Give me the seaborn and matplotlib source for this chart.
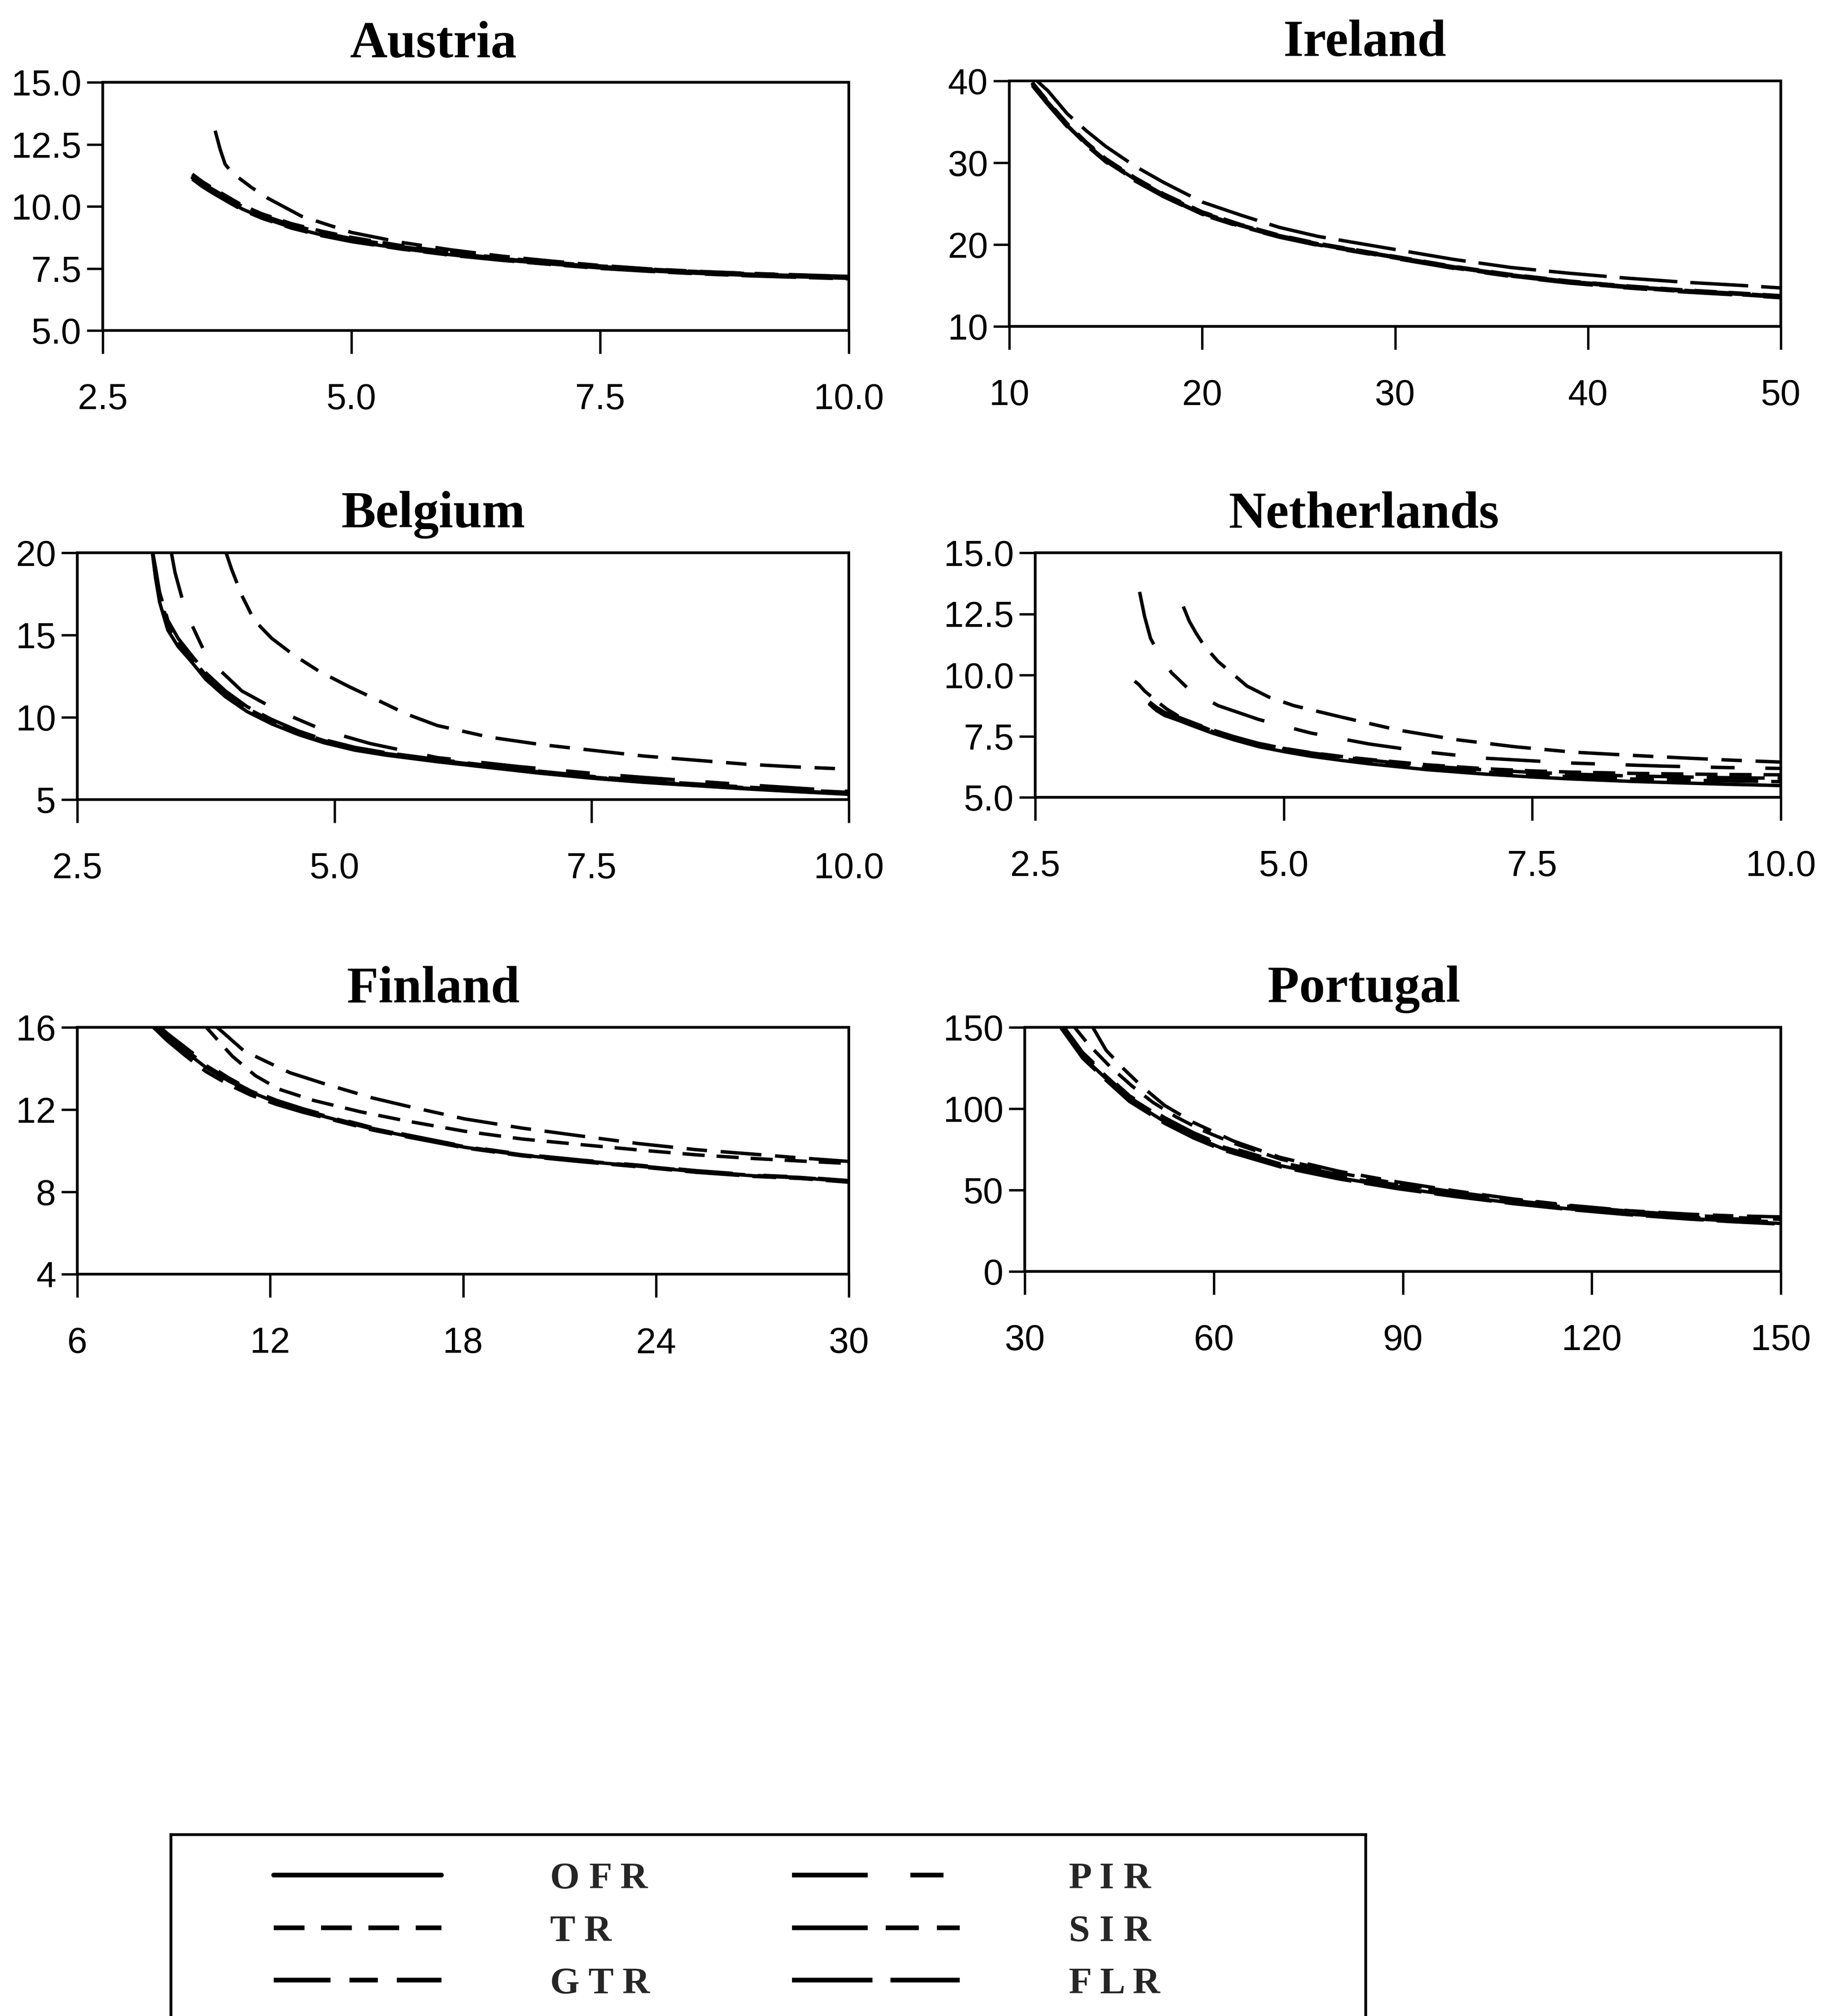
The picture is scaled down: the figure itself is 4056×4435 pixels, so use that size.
import matplotlib
matplotlib.use("Agg")
import matplotlib.pyplot as plt
from matplotlib.lines import Line2D
import pandas as pd
import seaborn as sns

# ---------------------------------------------------------------------------
# Series and legend text
# ---------------------------------------------------------------------------
SERIES = ["OFR", "TR", "GTR", "PIR", "SIR", "FLR"]
LEGEND_LABELS = ["O F R", "T R", "G T R", "P I R", "S I R", "F L R"]

# dash patterns (in units of line width)
DASHES = {
    "OFR": "",
    "TR": (6.5, 3.5),
    "GTR": (12, 4, 6, 4),
    "PIR": (16, 9, 7, 9),
    "SIR": (16, 3.8, 7, 3.8, 7, 3.8),
    "FLR": (17, 3.8),
}

# ---------------------------------------------------------------------------
# Austria
# ---------------------------------------------------------------------------
AT_X = [3.40, 3.50, 3.60, 3.75, 3.90, 4.10, 4.40, 4.70, 5.00, 5.50, 6.00, 6.50,
        7.00, 7.50, 8.00, 8.50, 9.00, 9.50, 10.00]
AT_OFR = [11.15, 10.85, 10.60, 10.25, 9.90, 9.55, 9.15, 8.85, 8.60, 8.30, 8.05,
          7.85, 7.68, 7.52, 7.40, 7.30, 7.22, 7.16, 7.10]
AT_TR = [11.30, 11.00, 10.75, 10.40, 10.05, 9.70, 9.30, 9.00, 8.75, 8.42, 8.15,
         7.93, 7.75, 7.60, 7.47, 7.37, 7.29, 7.23, 7.18]
AT_PIR = [11.20, 10.90, 10.65, 10.30, 9.95, 9.60, 9.20, 8.90, 8.65, 8.34, 8.08,
          7.88, 7.70, 7.55, 7.43, 7.33, 7.25, 7.19, 7.13]
AT_SIR = [11.10, 10.80, 10.55, 10.20, 9.86, 9.52, 9.12, 8.82, 8.58, 8.28, 8.03,
          7.83, 7.66, 7.50, 7.38, 7.28, 7.20, 7.14, 7.08]
AT_FLR = [11.25, 10.95, 10.70, 10.35, 10.00, 9.65, 9.25, 8.95, 8.70, 8.38, 8.12,
          7.90, 7.72, 7.58, 7.45, 7.35, 7.27, 7.21, 7.15]
AT_GTR_X = [3.63, 3.68, 3.73, 3.80, 3.90, 4.00, 4.15, 4.50, 5.00, 5.50, 6.00,
            6.50, 7.00, 7.50, 8.00, 8.50, 9.00, 9.50, 10.00]
AT_GTR = [13.05, 12.30, 11.70, 11.35, 11.05, 10.75, 10.35, 9.60, 8.95, 8.55,
          8.25, 8.00, 7.80, 7.62, 7.48, 7.38, 7.30, 7.24, 7.18]

# ---------------------------------------------------------------------------
# Ireland
# ---------------------------------------------------------------------------
IE_X = [11.2, 12.0, 13.0, 14.0, 15.0, 16.5, 18.0, 20.0, 22.0, 24.0, 26.0, 28.0,
        30.0, 33.0, 36.0, 39.0, 42.0, 45.0, 48.0, 50.0]
IE_OFR = [39.6, 37.3, 34.6, 32.3, 30.3, 28.0, 26.0, 23.8, 22.3, 21.0, 20.0, 19.2,
          18.4, 17.2, 16.2, 15.4, 14.8, 14.3, 13.9, 13.6]
IE_TR = [39.8, 37.5, 34.8, 32.5, 30.5, 28.2, 26.2, 24.0, 22.45, 21.15, 20.15,
         19.35, 18.55, 17.35, 16.35, 15.55, 14.95, 14.45, 14.05, 13.75]
IE_GTR = [39.5, 37.2, 34.5, 32.2, 30.2, 27.9, 25.9, 23.7, 22.2, 20.95, 19.95,
          19.15, 18.35, 17.15, 16.15, 15.35, 14.75, 14.25, 13.85, 13.55]
IE_PIR = [39.4, 37.1, 34.4, 32.1, 30.1, 27.8, 25.85, 23.65, 22.15, 20.9, 19.9,
          19.1, 18.3, 17.1, 16.1, 15.3, 14.7, 14.2, 13.8, 13.5]
IE_SIR = [39.7, 37.4, 34.7, 32.4, 30.4, 28.1, 26.1, 23.9, 22.4, 21.1, 20.1, 19.3,
          18.5, 17.3, 16.3, 15.5, 14.9, 14.4, 14.0, 13.7]
IE_FLR = [40.5, 38.8, 36.0, 33.9, 32.0, 29.6, 27.6, 25.2, 23.6, 22.1, 21.0, 20.2,
          19.4, 18.2, 17.2, 16.5, 15.9, 15.4, 15.0, 14.7]

# ---------------------------------------------------------------------------
# Belgium
# ---------------------------------------------------------------------------
BE_X = [3.22, 3.26, 3.30, 3.38, 3.48, 3.60, 3.75, 3.94, 4.15, 4.39, 4.65,
        4.90, 5.20, 5.50, 6.00, 6.50, 7.00, 7.50, 8.00, 8.50, 9.00, 9.50, 10.00]
BE_OFR = [20.5, 18.5, 17.0, 15.3, 14.3, 13.45, 12.3, 11.25, 10.35, 9.6, 8.95,
          8.45, 8.0, 7.7, 7.3, 6.95, 6.6, 6.3, 6.05, 5.85, 5.65, 5.48, 5.32]
BE_TR = [20.5, 18.9, 17.4, 15.7, 14.6, 13.7, 12.55, 11.45, 10.55, 9.78, 9.1,
         8.58, 8.12, 7.8, 7.4, 7.03, 6.68, 6.37, 6.12, 5.92, 5.72, 5.55, 5.4]
BE_SIR = [20.5, 18.7, 17.2, 15.5, 14.45, 13.58, 12.42, 11.35, 10.45, 9.69, 9.03,
          8.52, 8.06, 7.75, 7.35, 6.99, 6.64, 6.34, 6.09, 5.89, 5.69, 5.52, 5.37]
BE_FLR = [20.5, 19.1, 17.6, 15.9, 14.8, 13.85, 12.7, 11.6, 10.65, 9.87, 9.17,
          8.64, 8.17, 7.85, 7.44, 7.07, 6.72, 6.41, 6.16, 5.96, 5.76, 5.59, 5.44]
BE_PIR_X = [3.40, 3.45, 3.52, 3.60, 3.72, 3.88, 4.10, 4.45, 4.90, 5.35, 6.00,
            6.80, 7.50, 8.00, 9.00, 10.00]
BE_PIR = [20.5, 18.8, 17.2, 15.8, 14.2, 12.9, 11.6, 10.4, 9.2, 8.4, 7.55, 7.0,
          6.6, 6.35, 5.9, 5.5]
BE_GTR_X = [3.92, 4.00, 4.10, 4.22, 4.39, 4.60, 4.85, 5.13, 5.40, 5.70, 6.00,
            6.50, 7.00, 7.50, 8.00, 8.50, 9.00, 9.50, 10.00]
BE_GTR = [20.5, 19.0, 17.4, 15.9, 14.8, 13.8, 12.8, 11.9, 11.1, 10.2, 9.5, 8.8,
          8.35, 8.0, 7.65, 7.4, 7.15, 6.98, 6.85]

# ---------------------------------------------------------------------------
# Netherlands
# ---------------------------------------------------------------------------
NL_X = [3.65, 3.72, 3.80, 3.94, 4.10, 4.28, 4.50, 4.75, 5.00, 5.27, 5.60, 5.86,
        6.44, 7.02, 7.50, 7.90, 8.50, 9.07, 9.50, 10.00]
NL_OFR = [8.80, 8.55, 8.35, 8.15, 7.90, 7.63, 7.35, 7.07, 6.87, 6.68, 6.50, 6.37,
          6.13, 5.95, 5.83, 5.75, 5.65, 5.58, 5.53, 5.48]
NL_SIR = [8.85, 8.62, 8.42, 8.22, 7.97, 7.70, 7.42, 7.14, 6.94, 6.75, 6.57, 6.44,
          6.20, 6.03, 5.92, 5.84, 5.75, 5.70, 5.67, 5.64]
NL_FLR = [8.90, 8.68, 8.48, 8.28, 8.03, 7.76, 7.48, 7.20, 7.00, 6.82, 6.64, 6.52,
          6.28, 6.12, 6.02, 5.95, 5.87, 5.83, 5.80, 5.78]
NL_TR_X = [3.50, 3.54, 3.60, 3.71, 3.82, 3.94, 4.10, 4.28, 4.50, 4.75, 5.00,
           5.27, 5.60, 5.86, 6.44, 7.02, 7.50, 7.90, 8.50, 9.07, 9.50, 10.00]
NL_TR = [9.75, 9.62, 9.35, 8.97, 8.62, 8.32, 8.02, 7.72, 7.45, 7.20, 7.00, 6.83,
         6.66, 6.55, 6.33, 6.17, 6.08, 6.03, 5.98, 5.95, 5.93, 5.92]
NL_PIR_X = [3.55, 3.60, 3.66, 3.76, 3.87, 4.05, 4.34, 4.75, 5.27, 5.86, 6.44,
            7.02, 7.90, 8.78, 9.40, 10.00]
NL_PIR = [13.4, 12.4, 11.5, 10.75, 10.1, 9.4, 8.75, 8.18, 7.63, 7.18, 6.85, 6.6,
          6.4, 6.28, 6.22, 6.18]
NL_GTR_X = [3.99, 4.05, 4.12, 4.20, 4.34, 4.50, 4.63, 4.85, 5.10, 5.56, 6.15,
            6.73, 7.32, 7.90, 8.48, 9.07, 9.50, 10.00]
NL_GTR = [12.8, 12.2, 11.7, 11.2, 10.55, 10.0, 9.55, 9.1, 8.75, 8.3, 7.75, 7.36,
          7.07, 6.85, 6.72, 6.6, 6.52, 6.44]

# ---------------------------------------------------------------------------
# Finland
# ---------------------------------------------------------------------------
FI_X = [8.3, 8.8, 9.38, 10.0, 10.7, 11.4, 12.2, 13.0, 14.07, 15.2, 16.23, 18.04,
        19.84, 21.65, 23.45, 25.26, 27.06, 28.5, 30.0]
FI_OFR = [16.2, 15.5, 14.8, 14.05, 13.4, 12.85, 12.35, 11.95, 11.5, 11.05, 10.72,
          10.17, 9.78, 9.5, 9.25, 8.98, 8.78, 8.68, 8.5]
FI_PIR = [16.4, 15.7, 15.0, 14.25, 13.55, 12.95, 12.45, 12.05, 11.58, 11.12,
          10.78, 10.22, 9.83, 9.55, 9.3, 9.03, 8.82, 8.72, 8.55]
FI_SIR = [16.1, 15.35, 14.6, 13.85, 13.22, 12.7, 12.25, 11.88, 11.45, 11.0,
          10.68, 10.14, 9.75, 9.47, 9.22, 8.95, 8.75, 8.65, 8.47]
FI_FLR = [16.3, 15.6, 14.9, 14.15, 13.48, 12.9, 12.4, 12.0, 11.54, 11.08, 10.75,
          10.2, 9.8, 9.52, 9.27, 9.0, 8.8, 8.7, 8.52]
FI_TR_X = [9.9, 10.3, 10.82, 11.54, 12.26, 13.34, 14.79, 16.23, 18.04, 19.84,
           21.65, 23.45, 25.26, 27.06, 28.5, 30.0]
FI_TR = [16.2, 15.5, 14.6, 13.65, 13.0, 12.45, 11.9, 11.45, 10.95, 10.57, 10.3,
         10.04, 9.8, 9.62, 9.5, 9.38]
FI_GTR_X = [10.2, 10.55, 11.18, 11.9, 12.62, 13.7, 15.15, 16.23, 18.04, 19.84,
            21.65, 23.45, 25.26, 27.06, 28.5, 30.0]
FI_GTR = [16.2, 15.73, 14.86, 14.32, 13.79, 13.25, 12.58, 12.18, 11.55, 11.1,
          10.72, 10.35, 10.05, 9.83, 9.65, 9.48]

# ---------------------------------------------------------------------------
# Portugal
# ---------------------------------------------------------------------------
PT_X = [35.5, 39.2, 42.9, 46.6, 52.2, 56.8, 61.4, 70.6, 79.9, 89.1, 98.3, 107.6,
        116.8, 126.0, 135.3, 142.0, 150.0]
PT_OFR = [152, 132, 118.5, 105.5, 92, 83, 75.5, 65, 57.5, 51.5, 46.5, 42, 38.3,
          35.2, 32.6, 31, 29.5]
PT_SIR = [153, 133.5, 120, 107, 93.5, 84.2, 76.6, 66, 58.4, 52.3, 47.3, 42.8,
          39.1, 36.0, 33.4, 31.8, 30.3]
PT_PIR = [154, 134.5, 121, 108, 94.5, 85.2, 77.6, 67, 59.3, 53.1, 48.0, 43.5,
          39.8, 36.7, 34.0, 32.4, 31.0]
PT_FLR = [151, 131, 117.5, 104.5, 91, 82, 74.6, 64.2, 56.8, 50.9, 46.0, 41.6,
          37.9, 34.8, 32.2, 30.6, 29.1]
PT_TR_X = [37.5, 40.0, 43.5, 47.0, 50.3, 54.0, 58.0, 63.0, 70.6, 79.9, 89.1,
           98.3, 107.6, 116.8, 126.0, 135.3, 142.0, 150.0]
PT_TR = [152, 140, 126, 114, 104, 95, 87, 79, 69, 60.5, 54, 48.8, 44, 40.2, 37,
         34.6, 33.2, 32]
PT_GTR_X = [40.5, 42.9, 45.7, 48.5, 52.2, 56.8, 63.2, 70.6, 79.9, 89.1, 98.3,
            107.6, 116.8, 126.0, 135.3, 142.0, 150.0]
PT_GTR = [152, 136, 124.5, 114, 102, 91.5, 80, 70, 61.5, 55, 49.5, 44.5, 40.5,
          37.3, 35.2, 34.2, 33.5]

# ---------------------------------------------------------------------------
# Axis ticks and labels
# ---------------------------------------------------------------------------
AT_XTICKS, AT_XLABELS = [2.5, 5.0, 7.5, 10.0], ["2.5", "5.0", "7.5", "10.0"]
AT_YTICKS, AT_YLABELS = [5.0, 7.5, 10.0, 12.5, 15.0], ["5.0", "7.5", "10.0", "12.5", "15.0"]
IE_XTICKS, IE_XLABELS = [10, 20, 30, 40, 50], ["10", "20", "30", "40", "50"]
IE_YTICKS, IE_YLABELS = [10, 20, 30, 40], ["10", "20", "30", "40"]
BE_XTICKS, BE_XLABELS = [2.5, 5.0, 7.5, 10.0], ["2.5", "5.0", "7.5", "10.0"]
BE_YTICKS, BE_YLABELS = [5, 10, 15, 20], ["5", "10", "15", "20"]
NL_XTICKS, NL_XLABELS = [2.5, 5.0, 7.5, 10.0], ["2.5", "5.0", "7.5", "10.0"]
NL_YTICKS, NL_YLABELS = [5.0, 7.5, 10.0, 12.5, 15.0], ["5.0", "7.5", "10.0", "12.5", "15.0"]
FI_XTICKS, FI_XLABELS = [6, 12, 18, 24, 30], ["6", "12", "18", "24", "30"]
FI_YTICKS, FI_YLABELS = [4, 8, 12, 16], ["4", "8", "12", "16"]
PT_XTICKS, PT_XLABELS = [30, 60, 90, 120, 150], ["30", "60", "90", "120", "150"]
PT_YTICKS, PT_YLABELS = [0, 50, 100, 150], ["0", "50", "100", "150"]


def frame(series, xs, ys):
    return pd.DataFrame({"x": xs, "y": ys, "series": series})


PANELS = [
    dict(title="Austria", box=(226, 181, 1867, 727), col=953,
         xlim=(2.5, 10), ylim=(5, 15),
         xt=(AT_XTICKS, AT_XLABELS), yt=(AT_YTICKS, AT_YLABELS),
         data=[frame("OFR", AT_X, AT_OFR), frame("TR", AT_X, AT_TR),
               frame("GTR", AT_GTR_X, AT_GTR), frame("PIR", AT_X, AT_PIR),
               frame("SIR", AT_X, AT_SIR), frame("FLR", AT_X, AT_FLR)]),
    dict(title="Ireland", box=(2220, 178, 3917, 718), col=3002,
         xlim=(10, 50), ylim=(10, 40),
         xt=(IE_XTICKS, IE_XLABELS), yt=(IE_YTICKS, IE_YLABELS),
         data=[frame("OFR", IE_X, IE_OFR), frame("TR", IE_X, IE_TR),
               frame("GTR", IE_X, IE_GTR), frame("PIR", IE_X, IE_PIR),
               frame("SIR", IE_X, IE_SIR), frame("FLR", IE_X, IE_FLR)]),
    dict(title="Belgium", box=(170, 1216, 1867, 1759), col=953,
         xlim=(2.5, 10), ylim=(5, 20),
         xt=(BE_XTICKS, BE_XLABELS), yt=(BE_YTICKS, BE_YLABELS),
         data=[frame("OFR", BE_X, BE_OFR), frame("TR", BE_X, BE_TR),
               frame("GTR", BE_GTR_X, BE_GTR), frame("PIR", BE_PIR_X, BE_PIR),
               frame("SIR", BE_X, BE_SIR), frame("FLR", BE_X, BE_FLR)]),
    dict(title="Netherlands", box=(2277, 1216, 3917, 1754), col=3000,
         xlim=(2.5, 10), ylim=(5, 15),
         xt=(NL_XTICKS, NL_XLABELS), yt=(NL_YTICKS, NL_YLABELS),
         data=[frame("OFR", NL_X, NL_OFR), frame("TR", NL_TR_X, NL_TR),
               frame("GTR", NL_GTR_X, NL_GTR), frame("PIR", NL_PIR_X, NL_PIR),
               frame("SIR", NL_X, NL_SIR), frame("FLR", NL_X, NL_FLR)]),
    dict(title="Finland", box=(170, 2260, 1867, 2803), col=953,
         xlim=(6, 30), ylim=(4, 16),
         xt=(FI_XTICKS, FI_XLABELS), yt=(FI_YTICKS, FI_YLABELS),
         data=[frame("OFR", FI_X, FI_OFR), frame("TR", FI_TR_X, FI_TR),
               frame("GTR", FI_GTR_X, FI_GTR), frame("PIR", FI_X, FI_PIR),
               frame("SIR", FI_X, FI_SIR), frame("FLR", FI_X, FI_FLR)]),
    dict(title="Portugal", box=(2254, 2260, 3917, 2797), col=3000,
         xlim=(30, 150), ylim=(0, 150),
         xt=(PT_XTICKS, PT_XLABELS), yt=(PT_YTICKS, PT_YLABELS),
         data=[frame("OFR", PT_X, PT_OFR), frame("TR", PT_TR_X, PT_TR),
               frame("GTR", PT_GTR_X, PT_GTR), frame("PIR", PT_X, PT_PIR),
               frame("SIR", PT_X, PT_SIR), frame("FLR", PT_X, PT_FLR)]),
]

# ---------------------------------------------------------------------------
# Styling
# ---------------------------------------------------------------------------
sns.set_theme(style="white")
plt.rcParams["font.family"] = ["Liberation Sans", "DejaVu Sans"]

TICK_FAMILY, TICK_SIZE = ["Liberation Sans", "DejaVu Sans"], 57
SERIF = ["Liberation Serif", "DejaVu Serif"]

W, H = 4056, 4435
DPI = 100
LW = 5.4
fig = plt.figure(figsize=(W / DPI, H / DPI), dpi=DPI, facecolor="white")

for p in PANELS:
    left, top, right, bottom = p["box"]
    ax = fig.add_axes([left / W, 1 - bottom / H, (right - left) / W, (bottom - top) / H])
    df = pd.concat(p["data"], ignore_index=True)
    sns.lineplot(data=df, x="x", y="y", style="series", style_order=SERIES,
                 dashes=DASHES, color="black", linewidth=LW, estimator=None,
                 sort=False, legend=False, ax=ax)
    ax.set_xlim(*p["xlim"])
    ax.set_ylim(*p["ylim"])
    ax.set_xticks(p["xt"][0])
    ax.set_xticklabels(p["xt"][1], family=TICK_FAMILY, fontsize=TICK_SIZE)
    ax.set_yticks(p["yt"][0])
    ax.set_yticklabels(p["yt"][1], family=TICK_FAMILY, fontsize=TICK_SIZE)
    ax.set_xlabel("")
    ax.set_ylabel("")
    ax.tick_params(axis="x", direction="out", length=37, width=3.8, pad=46,
                   color="black", labelcolor="black", bottom=True)
    ax.tick_params(axis="y", direction="out", length=25, width=3.8, pad=9,
                   color="black", labelcolor="black", left=True)
    for s in ax.spines.values():
        s.set_visible(True)
        s.set_color("black")
        s.set_linewidth(4.3)
    ax.set_title(p["title"], x=(p["col"] - left) / (right - left), pad=40,
                 fontsize=82, fontweight="bold", family=SERIF, color="black")

# legend box, running off the bottom edge of the page
lax = fig.add_axes([376 / W, -0.06, (3004 - 376) / W, (H - 4036) / H + 0.06])
lax.set_xticks([])
lax.set_yticks([])
lax.set_facecolor("none")
for s in lax.spines.values():
    s.set_visible(True)
    s.set_color("black")
    s.set_linewidth(4.5)

handles = []
for s in SERIES:
    if DASHES[s] == "":
        handles.append(Line2D([], [], color="black", lw=7.5, linestyle="-"))
    else:
        handles.append(Line2D([], [], color="black", lw=7.5, dashes=DASHES[s]))

fig.legend(handles, LEGEND_LABELS, ncol=2, loc="upper left",
           bbox_to_anchor=(602 / W, 1 - 4096 / H), frameon=False,
           borderpad=0, borderaxespad=0, handlelength=4.43, handletextpad=2.87,
           columnspacing=3.75, labelspacing=0.47,
           prop=dict(family=SERIF, weight="bold", size=60))

fig.savefig("out.png", dpi=DPI, facecolor="white")
